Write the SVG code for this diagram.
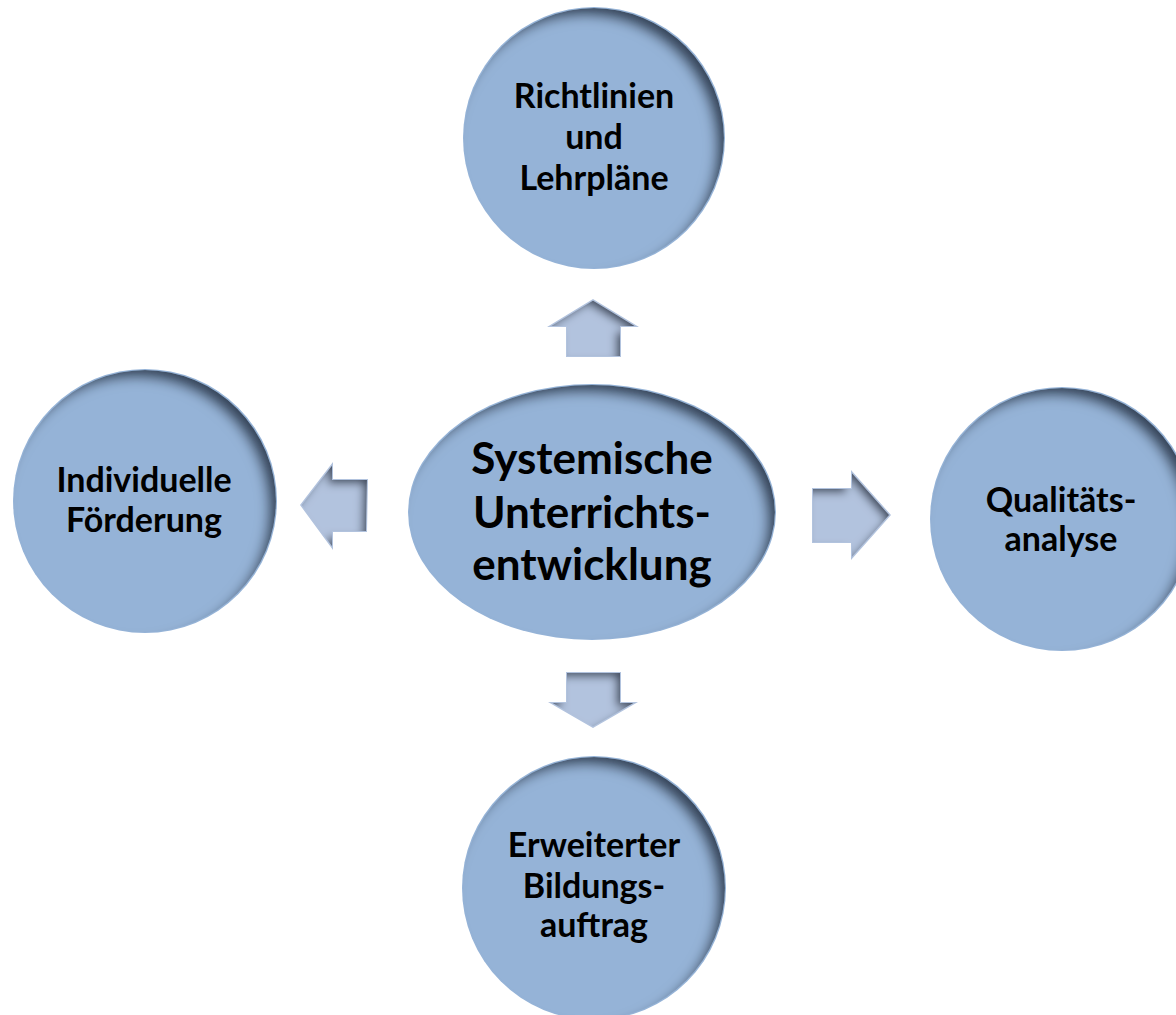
<svg xmlns="http://www.w3.org/2000/svg" width="1176" height="1015" viewBox="0 0 1176 1015">
<style>
.node{fill:#95b3d7;filter:url(#inset)}
.arr{fill:#b2c3de;filter:url(#insetS)}
text{font-family:Lato,"Liberation Sans",sans-serif;font-weight:bold;fill:#000;text-anchor:middle}
.s{font-size:34px}
.b{font-size:44px}
</style>
<defs>
<filter id="inset" x="-20%" y="-20%" width="140%" height="140%">
<feMorphology in="SourceAlpha" operator="erode" radius="1" result="er"/>
<feComponentTransfer in="SourceAlpha"><feFuncA type="table" tableValues="1 0"/></feComponentTransfer>
<feGaussianBlur stdDeviation="6"/>
<feOffset dx="-9" dy="9" result="off"/>
<feFlood flood-color="#16243a" flood-opacity="0.9"/>
<feComposite operator="in" in2="off"/>
<feComposite operator="in" in2="er" result="sh"/>
<feMerge><feMergeNode in="SourceGraphic"/><feMergeNode in="sh"/></feMerge>
</filter>
<filter id="insetS" x="-20%" y="-20%" width="140%" height="140%">
<feMorphology in="SourceAlpha" operator="erode" radius="1" result="er"/>
<feComponentTransfer in="SourceAlpha"><feFuncA type="table" tableValues="1 0"/></feComponentTransfer>
<feGaussianBlur stdDeviation="4"/>
<feOffset dx="-5" dy="5" result="off"/>
<feFlood flood-color="#16243a" flood-opacity="0.9"/>
<feComposite operator="in" in2="off"/>
<feComposite operator="in" in2="er" result="sh"/>
<feMerge><feMergeNode in="SourceGraphic"/><feMergeNode in="sh"/></feMerge>
</filter>
</defs>
<rect width="1176" height="1015" fill="#fff"/>
<g id="connectors">
<polygon class="arr" points="566,357 566,327 547,327 593,299 639,327 621,327 621,357"/>
<polygon class="arr" points="368,479 333,479 333,462 300,505 333,550 333,532 367,532"/>
<polygon class="arr" points="812,488 851,488 851,470 891,515 851,560 851,543 812,543"/>
<polygon class="arr" points="566,672 621,672 621,702 638,702 593,728 548,702 566,702"/>
</g>
<g id="center">
<ellipse class="node" cx="592" cy="512" rx="184" ry="128"/>
<text class="b" x="592" y="474">Systemische</text>
<text class="b" x="592" y="528">Unterrichts-</text>
<text class="b" x="592" y="580">entwicklung</text>
</g>
<g id="top">
<circle class="node" cx="594" cy="138" r="131"/>
<text class="s" x="594" y="108">Richtlinien</text>
<text class="s" x="594" y="149">und</text>
<text class="s" x="594" y="190">Lehrpläne</text>
</g>
<g id="left">
<circle class="node" cx="145" cy="501" r="132"/>
<text class="s" x="144" y="492">Individuelle</text>
<text class="s" x="144" y="532">Förderung</text>
</g>
<g id="right">
<circle class="node" cx="1062" cy="519" r="132"/>
<text class="s" x="1061" y="512">Qualitäts-</text>
<text class="s" x="1061" y="551">analyse</text>
</g>
<g id="bottom">
<circle class="node" cx="594" cy="888" r="132"/>
<text class="s" x="594" y="857">Erweiterter</text>
<text class="s" x="594" y="898">Bildungs-</text>
<text class="s" x="594" y="937">auftrag</text>
</g>
</svg>
